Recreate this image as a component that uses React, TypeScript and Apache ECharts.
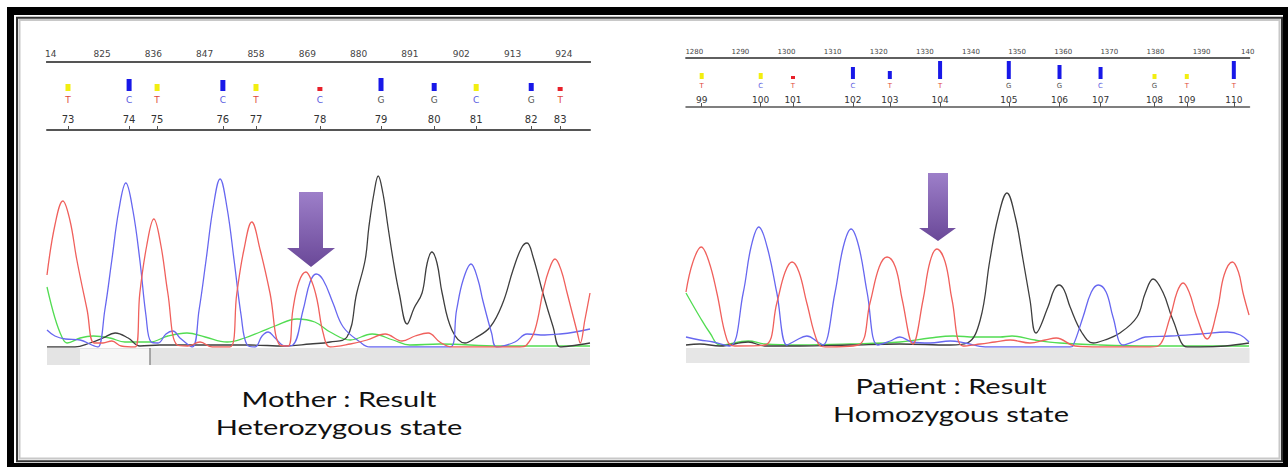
import React, { useEffect, useRef } from "react";
import * as echarts from "echarts";

// ---------- Mother (left) ----------
const motherRulerTicks = [814, 825, 836, 847, 858, 869, 880, 891, 902, 913, 924];
const motherRulerLabels = ["14", "825", "836", "847", "858", "869", "880", "891", "902", "913", "924"];
const motherBasePos = [817.7, 830.8, 836.8, 850.9, 858.0, 871.7, 884.8, 896.2, 905.2, 917.0, 923.2];
const motherBases = ["T", "C", "T", "C", "T", "C", "G", "G", "C", "G", "T"];
const motherBaseNums = [73, 74, 75, 76, 77, 78, 79, 80, 81, 82, 83];
const motherQuality = [21, 36, 21, 33, 21, 12, 39, 24, 21, 24, 12];

const motherT = [
  [813.2, 720], [814.9, 1220], [816.6, 1460], [818.1, 1270], [819.6, 870], [821.8, 370], [823.3, 40],
  [825.2, 40], [827.1, 60], [829.1, 10], [832.1, 0], [833.1, 540], [834.6, 1020], [836.1, 1280],
  [837.6, 1020], [839.1, 540], [841.1, 20], [843.4, 10], [846.0, 50], [848.6, 0], [852.4, 0],
  [853.9, 540], [855.4, 970], [857.1, 1250], [858.9, 970], [861.0, 540], [863.1, 20], [864.9, 10],
  [865.9, 370], [867.2, 650], [868.7, 750], [870.0, 650], [871.1, 470], [872.4, 140], [873.9, 0],
  [878.2, 30], [881.8, 70], [885.7, 130], [889.3, 60], [892.1, 110], [894.9, 140], [897.4, 50],
  [900.0, 0], [914.6, 0], [916.0, 20], [917.8, 170], [919.6, 570], [920.8, 770], [922.1, 880],
  [923.4, 770], [924.7, 540], [926.9, 140], [927.5, 40], [928.5, 270], [929.6, 540],
];
const motherC = [
  [813.2, 170], [814.9, 110], [817.1, 80], [820.3, 70], [822.8, 20], [824.1, 0], [825.6, 370],
  [827.1, 870], [828.6, 1370], [830.1, 1640], [831.6, 1370], [833.1, 870], [834.4, 320], [835.5, 50],
  [837.0, 40], [838.7, 130], [840.2, 160], [841.7, 90], [844.3, 0], [845.8, 370], [847.3, 870],
  [848.8, 1390], [850.3, 1680], [851.8, 1390], [853.3, 870], [854.8, 320], [856.1, 20], [857.8, 0],
  [859.3, 110], [860.6, 150], [862.1, 90], [864.2, 10], [865.9, 20], [868.1, 370], [869.6, 650],
  [870.9, 730], [872.4, 670], [874.5, 440], [876.7, 200], [880.3, 50], [882.4, 0], [899.6, 0],
  [901.0, 370], [902.4, 670], [904.1, 830], [905.6, 670], [906.6, 470], [908.5, 140], [909.6, 0],
  [913.5, 50], [916.1, 130], [919.9, 120], [923.2, 130], [926.4, 150], [929.6, 180],
];
const motherG = [
  [813.2, 0], [819.2, 0], [822.4, 40], [825.2, 90], [827.8, 140], [830.6, 90], [833.1, 10],
  [837.4, 20], [856.7, 20], [864.2, 10], [869.6, 30], [873.9, 50], [877.5, 100], [879.6, 540],
  [881.4, 870], [882.2, 1200], [883.3, 1540], [884.2, 1710], [885.2, 1540], [886.3, 1200],
  [887.4, 870], [888.7, 540], [890.4, 230], [891.9, 390], [893.6, 540], [894.7, 840], [895.7, 950],
  [896.8, 840], [897.9, 540], [900.0, 170], [902.8, 40], [905.0, 90], [908.2, 200], [910.9, 440],
  [913.1, 770], [914.9, 990], [916.1, 1040], [917.4, 900], [919.5, 540], [921.7, 200], [923.2, 0],
  [925.3, 10], [929.6, 40],
];
const motherA = [
  [813.2, 600], [814.9, 290], [816.4, 100], [817.5, 40], [820.3, 90], [823.1, 110], [826.7, 90],
  [829.9, 50], [835.3, 50], [839.1, 110], [843.2, 140], [847.1, 100], [851.8, 50], [855.6, 90],
  [858.9, 150], [862.1, 210], [866.8, 280], [870.6, 250], [873.9, 150], [878.2, 70], [882.9, 130],
  [887.4, 70], [891.0, 20], [897.4, 30], [910.3, 10], [929.6, 10],
];

// ---------- Patient (right) ----------
const patientRulerTicks = [1280, 1290, 1300, 1310, 1320, 1330, 1340, 1350, 1360, 1370, 1380, 1390, 1400];
const patientRulerLabels = ["1280", "1290", "1300", "1310", "1320", "1330", "1340", "1350", "1360", "1370", "1380", "1390", "140"];
const patientBasePos = [1281.6, 1294.4, 1301.4, 1314.4, 1322.4, 1333.3, 1348.2, 1359.2, 1368.1, 1379.8, 1386.8, 1397.0];
const patientBases = ["T", "C", "T", "C", "T", "T", "G", "G", "C", "G", "T", "T"];
const patientBaseNums = [99, 100, 101, 102, 103, 104, 105, 106, 107, 108, 109, 110];
const patientQuality = [18, 18, 9, 36, 24, 54, 54, 42, 36, 15, 15, 54];

const patientT = [
  [1278.2, 550], [1279.7, 850], [1281.5, 1000], [1283.2, 850], [1284.9, 540], [1287.1, 70],
  [1288.8, 10], [1295.3, 20], [1297.9, 440], [1299.7, 750], [1301.2, 850], [1302.7, 750],
  [1304.4, 440], [1306.8, 40], [1308.4, 0], [1315.5, 20], [1318.1, 440], [1320.1, 800],
  [1321.8, 900], [1323.6, 800], [1325.1, 470], [1327.4, 30], [1329.6, 470], [1331.1, 850],
  [1332.6, 980], [1334.4, 850], [1335.9, 470], [1338.3, 10], [1342.0, 30], [1345.2, 50],
  [1348.5, 70], [1352.8, 40], [1356.1, 70], [1358.5, 90], [1362.6, 10], [1368.0, 0], [1378.9, 0],
  [1380.6, 10], [1383.2, 300], [1384.7, 550], [1386.0, 640], [1387.3, 550], [1389.0, 300],
  [1391.2, 80], [1393.4, 370], [1394.9, 720], [1396.7, 850], [1398.0, 750], [1399.0, 540], [1400.3, 320],
];
const patientC = [
  [1278.2, 100], [1281.2, 70], [1284.1, 50], [1287.7, 10], [1290.6, 540], [1292.3, 1000],
  [1294.0, 1200], [1295.8, 1000], [1297.9, 540], [1300.1, 20], [1301.8, 60], [1304.4, 110],
  [1306.8, 50], [1307.9, 20], [1310.5, 540], [1312.3, 1000], [1314.0, 1180], [1315.7, 1000],
  [1317.5, 540], [1319.8, 20], [1322.5, 60], [1324.6, 100], [1327.2, 50], [1331.1, 40],
  [1335.5, 60], [1338.7, 40], [1343.1, 0], [1361.5, 0], [1362.1, 10], [1364.3, 300], [1366.1, 550],
  [1367.6, 620], [1369.3, 550], [1370.8, 300], [1373.0, 20], [1375.6, 60], [1377.8, 100],
  [1383.2, 110], [1389.7, 130], [1395.6, 150], [1398.4, 120], [1400.3, 50],
];
const patientG = [
  [1278.2, 20], [1281.2, 30], [1285.6, 10], [1291.7, 50], [1295.3, 10], [1302.9, 10], [1313.8, 20],
  [1324.6, 30], [1335.5, 20], [1339.2, 40], [1342.0, 270], [1344.1, 870], [1345.9, 1300],
  [1347.8, 1540], [1349.6, 1300], [1351.3, 870], [1352.8, 470], [1354.1, 140], [1356.7, 400],
  [1358.0, 570], [1359.1, 620], [1360.2, 570], [1361.5, 400], [1364.1, 140], [1366.5, 40],
  [1369.0, 70], [1372.3, 140], [1376.0, 300], [1377.8, 540], [1379.5, 680], [1381.7, 540],
  [1383.8, 270], [1386.9, 0], [1389.7, 0], [1395.1, 10], [1400.3, 40],
];
const patientA = [
  [1278.2, 540], [1281.2, 300], [1283.4, 140], [1285.6, 20], [1291.7, 60], [1295.3, 30],
  [1302.9, 20], [1313.8, 30], [1324.6, 50], [1331.1, 90], [1336.1, 110], [1340.9, 100],
  [1346.3, 100], [1348.9, 110], [1353.9, 70], [1359.3, 40], [1368.0, 20], [1378.9, 10], [1400.3, 10],
];

const captions = [
  { lines: ["Mother : Result", "Heterozygous state"], x: 339, y: [399, 427] },
  { lines: ["Patient : Result", "Homozygous state"], x: 951, y: [386, 414] },
];

const TRACE_COLORS: Record<string, string> = { T: "#f0605c", C: "#6767f0", G: "#3e3e3e", A: "#52dc52" };
const LETTER_COLORS: Record<string, string> = { T: "#e0483c", C: "#5a5ae0", G: "#555555", A: "#2a9a2a" };

function qualityColor(q: number) {
  if (q < 15) return "#e8202a";
  if (q < 23) return "#f2ee10";
  return "#1818e8";
}

function lookup(keys: number[], vals: (string | number)[], v: number) {
  for (let i = 0; i < keys.length; i++) if (Math.abs(keys[i] - v) < 1e-6) return String(vals[i]);
  return "";
}

type Panel = {
  left: number; width: number; min: number; max: number;
  rulerTop: number; rulerH: number; rulerFont: number; rulerMargin: number; rulerLW: number;
  rulerTicks: number[]; rulerLabels: string[];
  qTop: number; qH: number; barWidth: number; letterFont: number; letterDist: number;
  nTop: number; nH: number; numFont: number; numMargin: number;
  basePos: number[]; bases: string[]; baseNums: number[]; quality: number[];
  traces: { T: number[][]; C: number[][]; G: number[][]; A: number[][] };
};

const panels: Panel[] = [
  {
    left: 47, width: 543, min: 813.2, max: 929.6,
    rulerTop: 41, rulerH: 21, rulerFont: 9, rulerMargin: 4, rulerLW: 2,
    rulerTicks: motherRulerTicks, rulerLabels: motherRulerLabels,
    qTop: 71, qH: 20, barWidth: 5, letterFont: 9, letterDist: 4,
    nTop: 91, nH: 39, numFont: 10, numMargin: 6,
    basePos: motherBasePos, bases: motherBases, baseNums: motherBaseNums, quality: motherQuality,
    traces: { T: motherT, C: motherC, G: motherG, A: motherA },
  },
  {
    left: 686, width: 563.5, min: 1278.2, max: 1400.4,
    rulerTop: 41, rulerH: 17, rulerFont: 7, rulerMargin: 3, rulerLW: 1.5,
    rulerTicks: patientRulerTicks, rulerLabels: patientRulerLabels,
    qTop: 59, qH: 20, barWidth: 4, letterFont: 7, letterDist: 3,
    nTop: 79, nH: 28, numFont: 9, numMargin: 3,
    basePos: patientBasePos, bases: patientBases, baseNums: patientBaseNums, quality: patientQuality,
    traces: { T: patientT, C: patientC, G: patientG, A: patientA },
  },
];

function buildOption() {
  const grid: any[] = [];
  const xAxis: any[] = [];
  const yAxis: any[] = [];
  const series: any[] = [];
  const font = "DejaVu Sans";

  panels.forEach((p) => {
    const g0 = grid.length;
    grid.push({ left: p.left, width: p.width, top: p.rulerTop, height: p.rulerH });
    grid.push({ left: p.left, width: p.width, top: p.qTop, height: p.qH });
    grid.push({ left: p.left, width: p.width, top: p.nTop, height: p.nH });
    grid.push({ left: p.left, width: p.width, top: 147, height: 200 });
    const x0 = xAxis.length;
    const lineStyle = { color: "#555", width: p.rulerLW };
    xAxis.push({
      gridIndex: g0, type: "value", min: p.min, max: p.max, position: "top",
      axisLine: { show: true, lineStyle }, axisTick: { show: false }, axisLabel: { show: false }, splitLine: { show: false },
    });
    xAxis.push({
      gridIndex: g0, type: "value", min: p.min, max: p.max, position: "bottom",
      axisLine: { show: true, lineStyle }, axisTick: { show: false }, splitLine: { show: false },
      axisLabel: {
        inside: true, margin: p.rulerMargin, fontSize: p.rulerFont, color: "#444", fontFamily: font,
        customValues: p.rulerTicks, formatter: (v: number) => lookup(p.rulerTicks, p.rulerLabels, v),
      },
    });
    xAxis.push({ gridIndex: g0 + 1, type: "value", min: p.min, max: p.max, show: false, splitLine: { show: false } });
    xAxis.push({
      gridIndex: g0 + 2, type: "value", min: p.min, max: p.max, position: "bottom",
      axisLine: { show: true, lineStyle }, splitLine: { show: false },
      axisTick: { show: true, inside: true, length: 4, customValues: p.basePos, lineStyle: { color: "#555", width: 1 } },
      axisLabel: {
        inside: true, margin: p.numMargin, fontSize: p.numFont, color: "#333", fontFamily: font,
        customValues: p.basePos, formatter: (v: number) => lookup(p.basePos, p.baseNums, v),
      },
    });
    xAxis.push({ gridIndex: g0 + 3, type: "value", min: p.min, max: p.max, show: false, splitLine: { show: false } });
    const y0 = yAxis.length;
    yAxis.push({ gridIndex: g0, type: "value", min: 0, max: 1, show: false, splitLine: { show: false } });
    yAxis.push({ gridIndex: g0 + 1, type: "value", min: 0, max: 60, show: false, splitLine: { show: false } });
    yAxis.push({ gridIndex: g0 + 2, type: "value", min: 0, max: 1, show: false, splitLine: { show: false } });
    yAxis.push({ gridIndex: g0 + 3, type: "value", min: 0, max: 2000, show: false, splitLine: { show: false } });

    const rich: any = {};
    Object.keys(LETTER_COLORS).forEach((k) => {
      rich[k] = { color: LETTER_COLORS[k], fontSize: p.letterFont, fontFamily: font };
    });
    series.push({
      type: "bar", xAxisIndex: x0 + 2, yAxisIndex: y0 + 1, barWidth: p.barWidth,
      data: p.basePos.map((x, i) => ({ value: [x, p.quality[i]], itemStyle: { color: qualityColor(p.quality[i]) } })),
      label: {
        show: true, position: "bottom", distance: p.letterDist,
        formatter: (q: any) => `{${p.bases[q.dataIndex]}|${p.bases[q.dataIndex]}}`, rich,
      },
    });
    (["A", "G", "C", "T"] as const).forEach((b) => {
      series.push({
        type: "line", xAxisIndex: x0 + 4, yAxisIndex: y0 + 3, data: p.traces[b], smooth: 0.4,
        showSymbol: false, lineStyle: { color: TRACE_COLORS[b], width: 1.3 },
      });
    });
  });

  const arrowFill = {
    type: "linear", x: 0, y: 0, x2: 0, y2: 1,
    colorStops: [{ offset: 0, color: "#9d7fc9" }, { offset: 1, color: "#6a4898" }],
  };

  const graphic: any[] = [
    { type: "rect", z: -10, shape: { x: 7, y: 7, width: 1281, height: 460 }, style: { fill: "#000" } },
    { type: "rect", z: -9, shape: { x: 14, y: 15, width: 1269, height: 448 }, style: { fill: "#fff" } },
    { type: "rect", z: -8, shape: { x: 17, y: 17.7, width: 1265, height: 443.5 }, style: { fill: "none", stroke: "#333", lineWidth: 2 } },
    { type: "rect", z: -8, shape: { x: 19.5, y: 20, width: 1260, height: 438.5 }, style: { fill: "none", stroke: "#c8c8c8", lineWidth: 2 } },
    { type: "rect", z: -7, shape: { x: 47, y: 348, width: 543, height: 17 }, style: { fill: "#e4e4e4" } },
    { type: "rect", z: -7, shape: { x: 80, y: 349, width: 70, height: 16 }, style: { fill: "#f6f6f6" } },
    { type: "line", z: -6, shape: { x1: 150, y1: 348, x2: 150, y2: 365 }, style: { stroke: "#777", lineWidth: 1.2 } },
    { type: "rect", z: -7, shape: { x: 686, y: 348, width: 563.5, height: 15 }, style: { fill: "#e6e6e6" } },
    {
      type: "polygon", z: 50,
      shape: { points: [[299, 192], [323, 192], [323, 248], [335, 248], [311, 267], [287, 248], [299, 248]] },
      style: { fill: arrowFill },
    },
    {
      type: "polygon", z: 50,
      shape: { points: [[928, 173], [948, 173], [948, 228], [956, 228], [938, 241], [919, 228], [928, 228]] },
      style: { fill: arrowFill },
    },
  ];
  captions.forEach((c) => {
    c.lines.forEach((t, i) => {
      graphic.push({
        type: "text", z: 60, x: c.x, y: c.y[i], scaleX: 1.38,
        style: {
          text: t, fontSize: 21, fontFamily: "Lato", fill: "#111",
          align: "center", verticalAlign: "middle", textAlign: "center", textVerticalAlign: "middle",
        },
      });
    });
  });

  return { animation: false, backgroundColor: "#fff", grid, xAxis, yAxis, series, graphic };
}

export default function App() {
  const ref = useRef<HTMLDivElement>(null);
  useEffect(() => {
    if (!ref.current) return;
    const chart = echarts.init(ref.current, undefined, { renderer: "svg" });
    chart.setOption(buildOption() as any);
    return () => chart.dispose();
  }, []);
  return (
    <div
      ref={ref}
      style={{ position: "fixed", left: 0, top: 0, width: 1288, height: 467, background: "#fff" }}
    />
  );
}
